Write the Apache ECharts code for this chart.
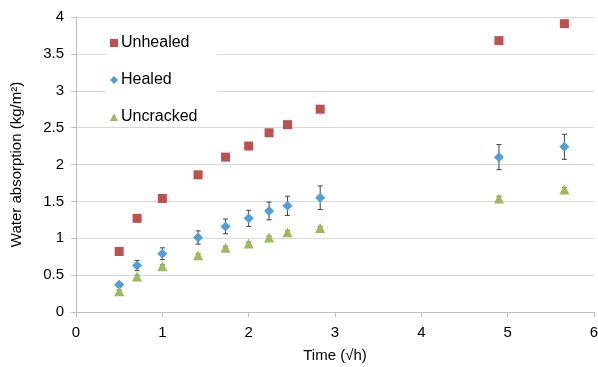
<!DOCTYPE html>
<html lang="en" style="height: 100%">
<head>
<meta charset="utf-8">
<title>Water absorption</title>
</head>
<body style="height: 100%; margin: 0; background: #fff">
<div id="container" style="width: 598px; height: 367px"></div>
<script type="text/javascript" src="https://cdn.jsdelivr.net/npm/echarts/dist/echarts.min.js"></script>
<script type="text/javascript">
// time in sqrt(h)
const hours = [0.25, 0.5, 1, 2, 3, 4, 5, 6, 8, 24, 32];
const unhealed = [0.82, 1.27, 1.54, 1.86, 2.10, 2.25, 2.43, 2.54, 2.75, 3.68, 3.91];
const healed = [0.37, 0.63, 0.79, 1.01, 1.16, 1.27, 1.37, 1.44, 1.55, 2.10, 2.24];
const healedErr = [0.03, 0.07, 0.08, 0.09, 0.10, 0.11, 0.12, 0.13, 0.16, 0.17, 0.17];
const uncracked = [0.28, 0.48, 0.62, 0.77, 0.87, 0.93, 1.01, 1.08, 1.14, 1.54, 1.66];
const uncrackedErr = [0.02, 0.02, 0.02, 0.02, 0.02, 0.02, 0.02, 0.02, 0.02, 0.03, 0.03];

const times = hours.map(h => Math.sqrt(h));
const pairs = vals => times.map((t, i) => [t, vals[i]]);
const errData = (vals, err) => times.map((t, i) => [t, vals[i] - err[i], vals[i] + err[i]]);

const font = 'Liberation Sans, Arial, sans-serif';

function errRender(params, api) {
  const x = api.value(0);
  const lo = api.coord([x, api.value(1)]);
  const hi = api.coord([x, api.value(2)]);
  const w = 2.5;
  const st = { stroke: '#444', lineWidth: 1 };
  return {
    type: 'group',
    children: [
      { type: 'line', shape: { x1: lo[0], y1: lo[1], x2: hi[0], y2: hi[1] }, style: st },
      { type: 'line', shape: { x1: lo[0] - w, y1: lo[1], x2: lo[0] + w, y2: lo[1] }, style: st },
      { type: 'line', shape: { x1: hi[0] - w, y1: hi[1], x2: hi[0] + w, y2: hi[1] }, style: st }
    ]
  };
}

var dom = document.getElementById('container');
var myChart = echarts.init(dom, null, { width: 598, height: 367 });

var option = {
  animation: false,
  grid: { left: 76, right: 4, top: 17, bottom: 55, outerBoundsMode: 'none', containLabel: false },
  legend: {
    orient: 'vertical',
    left: 106,
    top: 33,
    itemWidth: 8,
    itemHeight: 8,
    itemGap: 21,
    backgroundColor: '#fff',
    padding: [2, 20, 2, 4],
    textStyle: { fontFamily: font, fontSize: 16, color: '#000', padding: [0, 0, 0, -2] },
    data: [
      { name: 'Unhealed', icon: 'rect' },
      { name: 'Healed', icon: 'diamond' },
      { name: 'Uncracked', icon: 'triangle' }
    ]
  },
  xAxis: {
    type: 'value',
    min: 0, max: 6, interval: 1,
    name: 'Time (\u221Ah)',
    nameLocation: 'middle',
    nameGap: 36,
    nameTextStyle: { fontFamily: font, fontSize: 15, color: '#000' },
    axisLine: { lineStyle: { color: '#bfbfbf' } },
    axisTick: { show: true, length: 5, lineStyle: { color: '#bfbfbf' } },
    axisLabel: { fontFamily: font, fontSize: 15, color: '#000', margin: 13 },
    splitLine: { show: false }
  },
  yAxis: {
    type: 'value',
    min: 0, max: 4, interval: 0.5,
    name: 'Water absorption (kg/m\u00B2)',
    nameLocation: 'middle',
    nameGap: 52,
    nameTextStyle: { fontFamily: font, fontSize: 15, color: '#000' },
    axisLine: { show: true, lineStyle: { color: '#bfbfbf' } },
    axisTick: { show: true, length: 5, lineStyle: { color: '#bfbfbf' } },
    axisLabel: { fontFamily: font, fontSize: 15, color: '#000', margin: 12 },
    splitLine: { lineStyle: { color: '#d9d9d9', width: 1 } }
  },
  series: [
    {
      name: 'Unhealed', type: 'scatter', symbol: 'rect', symbolSize: 9,
      itemStyle: { color: '#c0504d', opacity: 1 }, data: pairs(unhealed), z: 3
    },
    {
      type: 'custom', renderItem: errRender, data: errData(healed, healedErr), z: 2, silent: true
    },
    {
      name: 'Healed', type: 'scatter', symbol: 'diamond', symbolSize: 10,
      itemStyle: { color: '#4f9ee0', opacity: 1 }, data: pairs(healed), z: 3
    },
    {
      type: 'custom', renderItem: errRender, data: errData(uncracked, uncrackedErr), z: 2, silent: true
    },
    {
      name: 'Uncracked', type: 'scatter', symbol: 'triangle', symbolSize: 10,
      itemStyle: { color: '#9bbb59', opacity: 1 }, data: pairs(uncracked), z: 3
    }
  ]
};

myChart.setOption(option);
</script>
</body>
</html>
